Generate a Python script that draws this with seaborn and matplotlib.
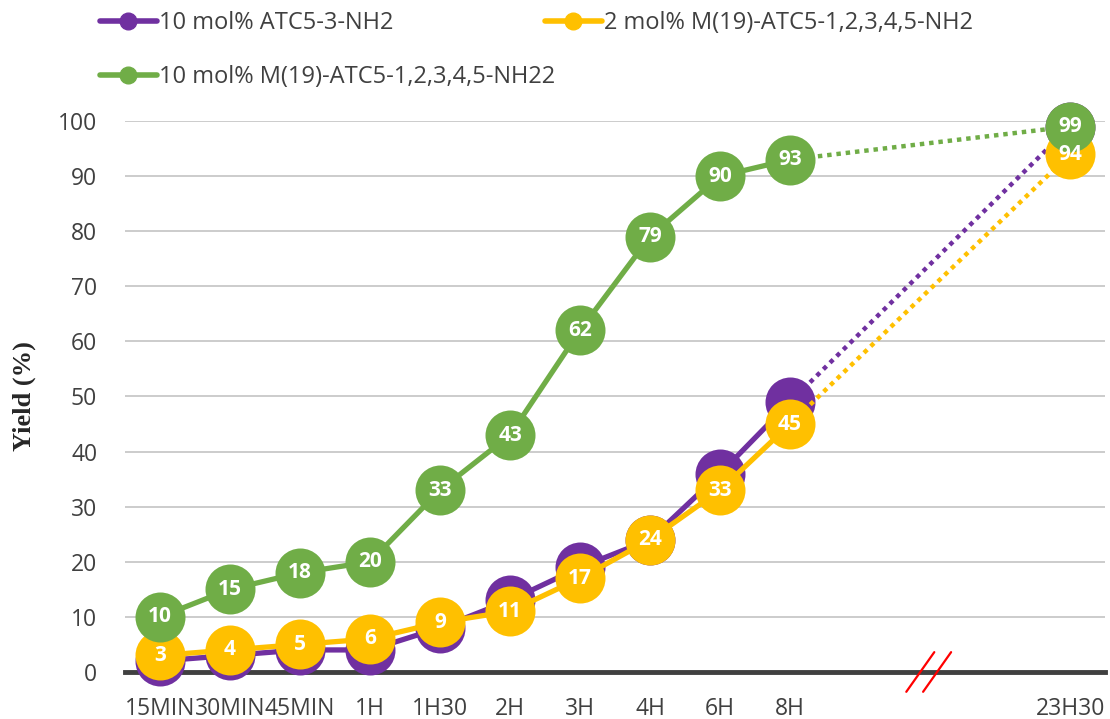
import matplotlib
matplotlib.use("Agg")
import matplotlib.pyplot as plt
from matplotlib.lines import Line2D
import seaborn as sns

# data
time_labels = ["15MIN", "30MIN", "45MIN", "1H", "1H30", "2H", "3H", "4H", "6H", "8H", "23H30"]
time_pos = [0, 1, 2, 3, 4, 5, 6, 7, 8, 9, 13]   # gap before 23H30 (axis break)
atc5_3 = [2, 3, 4, 4, 8, 13, 19, 24, 36, 49, 99]
m19_2 = [3, 4, 5, 6, 9, 11, 17, 24, 33, 45, 94]
m19_10 = [10, 15, 18, 20, 33, 43, 62, 79, 90, 93, 99]

series = [
    ("10 mol% ATC5-3-NH2", atc5_3, "#7030A0", False),
    ("2 mol% M(19)-ATC5-1,2,3,4,5-NH2", m19_2, "#FFC000", True),
    ("10 mol% M(19)-ATC5-1,2,3,4,5-NH22", m19_10, "#70AD47", True),
]

sns.set_style("white")
plt.rcParams['font.family'] = ['Open Sans', 'DejaVu Sans']

fig = plt.figure(figsize=(11.1, 7.19), dpi=100)
ax = fig.add_axes([0.1126, 0.0654, 0.883, 0.7663])

for name, vals, col, show_lbl in series:
    # solid part (up to 8H)
    sns.lineplot(x=time_pos[:10], y=vals[:10], color=col, linewidth=3.8,
                 marker="o", markersize=36, markeredgewidth=0, ax=ax,
                 clip_on=False, zorder=3)
    # dotted jump to 23H30
    ax.plot(time_pos[9:], vals[9:], color=col, linewidth=3.2,
            linestyle=(0, (1, 1.1)), dash_capstyle="butt", zorder=3, clip_on=False)
    ax.plot(time_pos[10], vals[10], "o", color=col, markersize=36,
            markeredgewidth=0, zorder=3, clip_on=False)
    if show_lbl:
        for x, v in zip(time_pos, vals):
            ax.text(x, v, str(v), color="white", fontsize=15, fontweight="bold",
                    ha="center", va="center", zorder=4)

ax.set_xlim(-0.5, 13.5)
ax.set_ylim(0, 100)
ax.set_yticks(range(0, 101, 10))
ax.set_xticks(time_pos)
ax.set_xticklabels(time_labels)
ax.tick_params(axis="both", labelsize=16.5, colors="#404040", length=0)
ax.tick_params(axis="x", pad=18)
ax.tick_params(axis="y", pad=20)
ax.grid(axis="y", color="#C8C8C8", linewidth=1.3)
ax.set_axisbelow(True)
for s in ["left", "right", "top"]:
    ax.spines[s].set_visible(False)
ax.spines["bottom"].set_color("#404040")
ax.spines["bottom"].set_linewidth(3.5)
ax.spines["bottom"].set_zorder(2)

ax.set_ylabel("Yield (%)", fontsize=19, fontweight="bold",
              family="Liberation Serif", labelpad=16)

# axis break marks
for dx in (-0.14, 0.1):
    ax.plot([11 + dx - 0.2, 11 + dx + 0.2], [-3.6, 3.6], color="red",
            linewidth=1.6, clip_on=False, zorder=5)

def handle(col):
    return Line2D([0], [0], color=col, linewidth=4, marker="o", markersize=12)

leg_kw = dict(frameon=False, fontsize=17, handlelength=2.4, handletextpad=0.1,
              labelcolor="#404040", borderaxespad=0, borderpad=0)
fig.legend([handle(series[0][2]), handle(series[2][2])],
           [series[0][0], series[2][0]], loc="upper left",
           bbox_to_anchor=(0.09, 0.985), labelspacing=1.3, **leg_kw)
fig.legend([handle(series[1][2])], [series[1][0]], loc="upper left",
           bbox_to_anchor=(0.491, 0.985), **leg_kw)

fig.savefig("out.png", dpi=100)
